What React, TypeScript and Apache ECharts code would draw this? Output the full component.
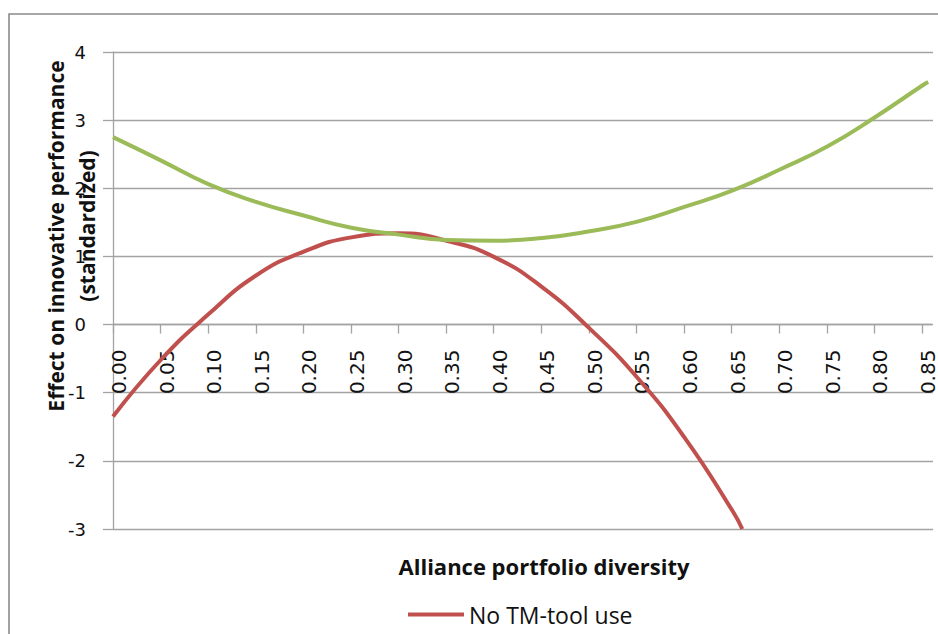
import React, { useEffect, useRef } from "react";
import * as echarts from "echarts";

const xTicks = [0, 0.05, 0.1, 0.15, 0.2, 0.25, 0.3, 0.35, 0.4, 0.45, 0.5, 0.55, 0.6, 0.65, 0.7, 0.75, 0.8, 0.85];
const redX = [0, 0.05, 0.1, 0.15, 0.2, 0.25, 0.3, 0.35, 0.4, 0.45, 0.5, 0.55, 0.6, 0.65, 0.66];
const redY = [-1.35, -0.52, 0.15, 0.72, 1.07, 1.28, 1.34, 1.23, 0.99, 0.55, -0.06, -0.78, -1.67, -2.74, -3.0];
const greenX = [0, 0.05, 0.1, 0.15, 0.2, 0.25, 0.3, 0.35, 0.4, 0.45, 0.5, 0.55, 0.6, 0.65, 0.7, 0.75, 0.8, 0.85, 0.855];
const greenY = [2.75, 2.41, 2.06, 1.8, 1.6, 1.42, 1.32, 1.24, 1.23, 1.27, 1.37, 1.51, 1.73, 1.97, 2.28, 2.62, 3.05, 3.52, 3.56];
const seriesNames = ["No TM-tool use", "TM-tool use"];
const xTitle = "Alliance portfolio diversity";
const yTitle1 = "Effect on innovative performance";
const yTitle2 = "(standardized)";

export default function App() {
  const ref = useRef<HTMLDivElement>(null);
  useEffect(() => {
    if (!ref.current) return;
    const chart = echarts.init(ref.current, undefined, { renderer: "svg" });
    const grid = "#a3a3a3";
    const plotTop = 52;
    const plotBottom = 105;
    // y = 0 lies 4/7 of the way down the plot
    const zeroBottom = 634 - (plotTop + ((634 - plotTop - plotBottom) * 4) / 7);
    chart.setOption({
      animation: false,
      backgroundColor: "#fff",
      grid: [
        { left: 113, right: 5, top: plotTop, bottom: plotBottom },
        { left: 113, right: 5, top: plotTop, bottom: zeroBottom },
      ],
      legend: {
        data: [seriesNames[0]],
        left: 403,
        top: 598,
        icon: "rect",
        itemWidth: 56,
        itemHeight: 4,
        textStyle: { fontSize: 23, fontFamily: "Open Sans", color: "#111" },
      },
      xAxis: [
        {
          type: "value",
          gridIndex: 0,
          min: 0,
          max: 0.86,
          interval: 0.05,
          axisLine: { show: false },
          axisTick: { show: false },
          splitLine: { show: false },
          axisLabel: { show: false },
        },
        {
          type: "value",
          gridIndex: 1,
          min: 0,
          max: 0.86,
          interval: 0.05,
          position: "bottom",
          axisLine: { show: true, onZero: false, lineStyle: { color: grid, width: 1.3 } },
          axisTick: { show: true, length: 9, lineStyle: { color: grid, width: 1.3 } },
          splitLine: { show: false },
          axisLabel: {
            rotate: 90,
            showMaxLabel: false,
            margin: 25,
            verticalAlign: "top",
            lineHeight: 12,
            fontSize: 20,
            fontFamily: "DejaVu Sans",
            color: "#111",
            formatter: (v: number) => (xTicks.some((t) => Math.abs(t - v) < 1e-6) ? v.toFixed(2) : ""),
          },
        },
      ],
      yAxis: [
        {
          type: "value",
          gridIndex: 0,
          min: -3,
          max: 4,
          interval: 1,
          axisLine: { show: true, onZero: false, lineStyle: { color: grid, width: 1.3 } },
          axisTick: { show: true, length: 10, lineStyle: { color: grid, width: 1.3 } },
          splitLine: { show: true, lineStyle: { color: grid, width: 1.3 } },
          axisLabel: { margin: 27, fontSize: 18, fontFamily: "DejaVu Sans", color: "#111" },
        },
        {
          type: "value",
          gridIndex: 1,
          min: 0,
          max: 4,
          show: false,
        },
      ],
      series: [
        {
          name: seriesNames[0],
          type: "line",
          smooth: true,
          showSymbol: false,
          data: redX.map((x, i) => [x, redY[i]]),
          lineStyle: { color: "#c0504d", width: 4 },
          itemStyle: { color: "#c0504d" },
        },
        {
          name: seriesNames[1],
          type: "line",
          smooth: true,
          showSymbol: false,
          data: greenX.map((x, i) => [x, greenY[i]]),
          lineStyle: { color: "#9bbb59", width: 4 },
          itemStyle: { color: "#9bbb59" },
        },
      ],
      graphic: [
        {
          type: "rect",
          silent: true,
          shape: { x: 9, y: 14, width: 1000, height: 700 },
          style: { fill: "none", stroke: "#8a8a8a", lineWidth: 1.6 },
        },
        {
          type: "text",
          x: 56,
          y: 236,
          rotation: Math.PI / 2,
          style: {
            text: yTitle1,
            font: 'bold 21px "Open Sans"',
            fill: "#111",
            align: "center",
            verticalAlign: "middle",
            textAlign: "center",
            textVerticalAlign: "middle",
          },
        },
        {
          type: "text",
          x: 87,
          y: 226,
          rotation: Math.PI / 2,
          style: {
            text: yTitle2,
            font: 'bold 21px "Open Sans"',
            fill: "#111",
            align: "center",
            verticalAlign: "middle",
            textAlign: "center",
            textVerticalAlign: "middle",
          },
        },
        {
          type: "text",
          x: 544,
          y: 566,
          style: {
            text: xTitle,
            font: 'bold 22px "Open Sans"',
            fill: "#111",
            align: "center",
            verticalAlign: "middle",
            textAlign: "center",
            textVerticalAlign: "middle",
          },
        },
      ],
    });
    return () => chart.dispose();
  }, []);
  return <div ref={ref} style={{ position: "absolute", left: 0, top: 0, width: 938, height: 634 }} />;
}
